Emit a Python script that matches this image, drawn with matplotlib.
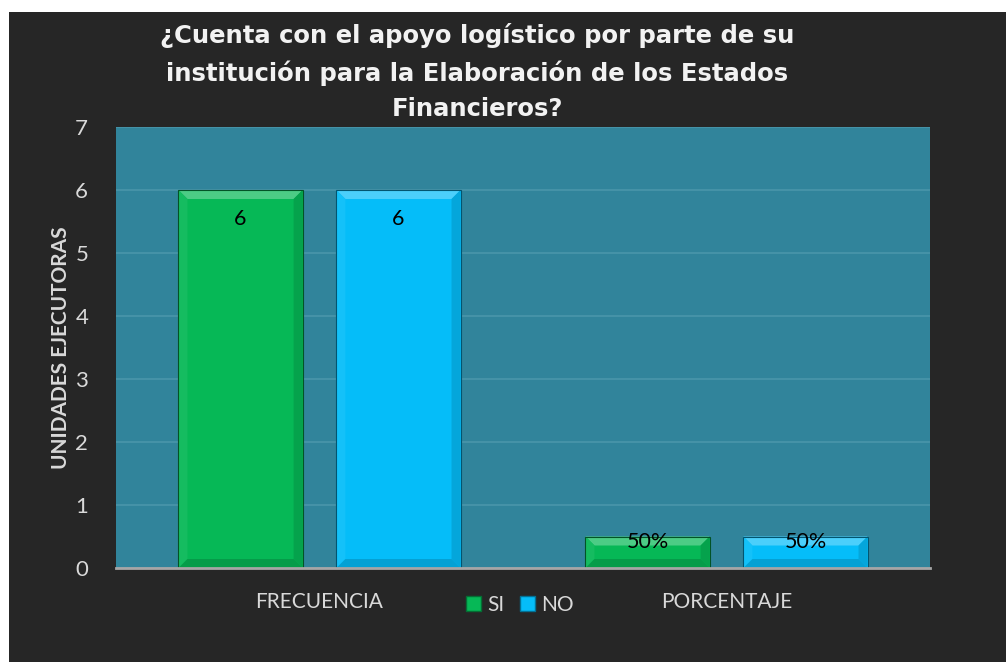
import numpy as np
import matplotlib
matplotlib.use("Agg")
import matplotlib.pyplot as plt
from matplotlib.patches import Rectangle, Polygon

# ---- data ----
categories = ["FRECUENCIA", "PORCENTAJE"]
series_names = ["SI", "NO"]
si_values = [6, 0.5]
no_values = [6, 0.5]
si_labels = ["6", "50%"]
no_labels = ["6", "50%"]
y_ticks = [0, 1, 2, 3, 4, 5, 6, 7]
title = "¿Cuenta con el apoyo logístico por parte de su\ninstitución para la Elaboración de los Estados\nFinancieros?"
y_label = "UNIDADES EJECUTORAS"

# ---- style ----
FONT = "Lato"
BG = "#262626"
PLOT_BG = "#31849B"
GREEN = "#06B856"
CYAN = "#05BDF9"
TXT = "#D9D9D9"

W, H = 1006, 662
fig = plt.figure(figsize=(W / 100, H / 100), dpi=100)
fig.patch.set_facecolor("white")
fig.add_artist(Rectangle((9 / W, 0), 1, (H - 12) / H, transform=fig.transFigure,
                         facecolor=BG, edgecolor="none", zorder=0))

ax = fig.add_axes([116 / W, (H - 568) / H, 814 / W, 441 / H])
ax.set_facecolor(PLOT_BG)
ax.set_xlim(-0.5, 1.5)
ax.set_ylim(0, 7)
ax.set_yticks(y_ticks)
ax.set_yticklabels([str(t) for t in y_ticks], fontfamily=FONT, fontsize=16, color=TXT)
x = np.arange(len(categories))
ax.set_xticks(x)
ax.set_xticklabels(categories, fontfamily=FONT, fontsize=15, color=TXT)
ax.tick_params(axis="both", length=0)
ax.tick_params(axis="y", pad=20)
ax.tick_params(axis="x", pad=17)
for s in ["top", "right", "left"]:
    ax.spines[s].set_visible(False)
ax.spines["bottom"].set_color("#A6A6A6")
ax.spines["bottom"].set_linewidth(2)
ax.spines["bottom"].set_zorder(5)
ax.grid(axis="y", color="#4A95AA", linewidth=1.2)
ax.set_axisbelow(True)

ax.set_ylabel(y_label, fontfamily=FONT, fontsize=15, fontweight="bold", color=TXT, labelpad=3)

w = 0.305
off = 0.194
b1 = ax.bar(x - off, si_values, w, color=GREEN, label=series_names[0], zorder=2)
b2 = ax.bar(x + off, no_values, w, color=CYAN, label=series_names[1], zorder=2)


def shade(c, f):
    c = np.array(matplotlib.colors.to_rgb(c))
    if f > 0:
        c = c + (1 - c) * f
    else:
        c = c * (1 + f)
    return tuple(np.clip(c, 0, 1))


fig.canvas.draw()
inv = ax.transData.inverted()
bev = 9
for bars, col in [(b1, GREEN), (b2, CYAN)]:
    for r in bars:
        x0, y0 = r.get_x(), r.get_y()
        x1, y1 = x0 + r.get_width(), y0 + r.get_height()
        (px0, py0), (px1, py1) = ax.transData.transform([(x0, y0), (x1, y1)])
        bb = min(bev, (py1 - py0) / 2.5)
        polys = [
            ([(px0, py1), (px1, py1), (px1 - bb, py1 - bb), (px0 + bb, py1 - bb)], shade(col, 0.28)),
            ([(px0, py1), (px0 + bb, py1 - bb), (px0 + bb, py0 + bb), (px0, py0)], shade(col, 0.06)),
            ([(px1, py1), (px1 - bb, py1 - bb), (px1 - bb, py0 + bb), (px1, py0)], shade(col, -0.12)),
            ([(px0, py0), (px0 + bb, py0 + bb), (px1 - bb, py0 + bb), (px1, py0)], shade(col, -0.15)),
        ]
        for pts, c in polys:
            ax.add_patch(Polygon(inv.transform(pts), closed=True, facecolor=c,
                                 edgecolor="none", zorder=3))
        ax.add_patch(Rectangle((x0, y0), r.get_width(), r.get_height(), facecolor="none",
                               edgecolor=shade(col, -0.55), linewidth=0.8, zorder=4))

label_offsets = [-29, -5]
for bars, labels in [(b1, si_labels), (b2, no_labels)]:
    for i, (r, lab) in enumerate(zip(bars, labels)):
        ax.annotate(lab, (r.get_x() + r.get_width() / 2, r.get_height()),
                    xytext=(0, label_offsets[i]), textcoords="offset pixels",
                    ha="center", va="center", fontfamily=FONT, fontsize=15.5,
                    color="black", zorder=6)

fig.text(477 / W, 1 - 72 / H, title, ha="center", va="center", fontfamily="DejaVu Sans",
         fontsize=17.5, fontweight="bold", color="#F2F2F2", linespacing=1.58)

handles = [Rectangle((0, 0), 1, 1, facecolor=GREEN, edgecolor=shade(GREEN, -0.4)),
           Rectangle((0, 0), 1, 1, facecolor=CYAN, edgecolor=shade(CYAN, -0.4))]
leg = fig.legend(handles, series_names, loc="center", bbox_to_anchor=(520 / W, 1 - 605 / H),
                 ncol=2, frameon=False, handlelength=0.7, handleheight=0.7,
                 handletextpad=0.3, columnspacing=0.75,
                 prop={"family": FONT, "size": 15})
for t in leg.get_texts():
    t.set_color(TXT)

fig.savefig("out.png", dpi=100, facecolor=fig.get_facecolor())
